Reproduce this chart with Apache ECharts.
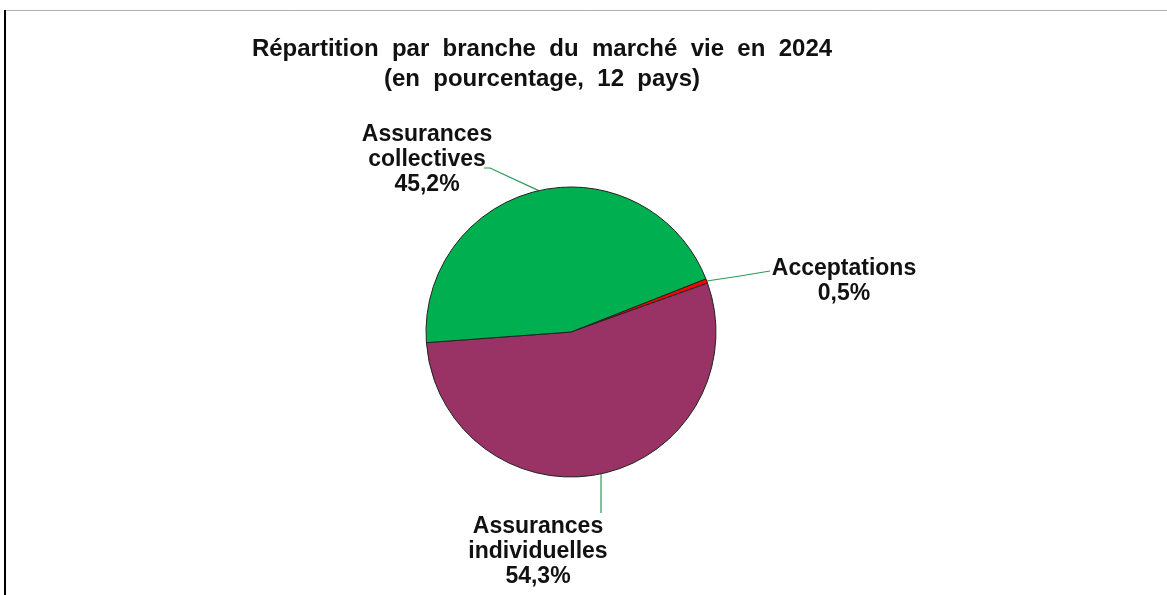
<!DOCTYPE html>
<html>
<head>
<meta charset="utf-8">
<script src="https://cdn.jsdelivr.net/npm/echarts@6/dist/echarts.min.js"></script>
<style>
  html, body { margin: 0; padding: 0; background: #fff; }
  #chart { width: 1167px; height: 595px; }
</style>
</head>
<body>
<div id="chart"></div>
<script>
// données (ordre horaire depuis la tranche rouge)
const branches = ['Acceptations', 'Assurances individuelles', 'Assurances collectives'];
const parts = [0.5, 54.3, 45.2];
const couleurs = ['#ff0000', '#993366', '#00b050'];

// position des étiquettes (centre du texte) et bout des traits de rappel
const etiquettes = [[844, 281], [538, 552], [427, 160]];
const finsTrait = [[[740, 276], [770, 271]], [[601, 495], [601, 513]], [[490, 168], [484, 168]]];

const chart = echarts.init(document.getElementById('chart'));

chart.setOption({
  backgroundColor: '#fff',
  animation: false,
  title: {
    text: 'Répartition  par  branche  du  marché  vie  en  2024\n(en  pourcentage,  12  pays)',
    left: 537,
    top: 29,
    textAlign: 'center',
    textStyle: {
      fontFamily: 'Liberation Sans, Arial, sans-serif',
      fontSize: 24,
      fontWeight: 'bold',
      color: '#111',
      lineHeight: 30
    }
  },
  graphic: [
    { type: 'line', shape: { x1: 4, y1: 10.5, x2: 1167, y2: 10.5 }, style: { stroke: '#b0b0b0', lineWidth: 1 } },
    { type: 'line', shape: { x1: 5, y1: 10, x2: 5, y2: 595 }, style: { stroke: '#000', lineWidth: 2 } }
  ],
  series: [{
    type: 'pie',
    center: [571, 332],
    radius: 145,
    startAngle: 21.5,
    clockwise: true,
    data: branches.map(function (b, i) {
      return { name: b, value: parts[i], itemStyle: { color: couleurs[i] } };
    }),
    itemStyle: { borderColor: '#222', borderWidth: 1 },
    label: {
      show: true,
      position: 'outside',
      fontFamily: 'Liberation Sans, Arial, sans-serif',
      fontSize: 23,
      fontWeight: 'bold',
      color: '#111',
      lineHeight: 25,
      align: 'center',
      formatter: function (p) {
        return p.name.replace(' ', '\n') + '\n' + String(p.value).replace('.', ',') + '%';
      }
    },
    labelLine: {
      show: true,
      length: 20,
      length2: 20,
      lineStyle: { color: '#2a9a55', width: 1.2 }
    },
    labelLayout: function (p) {
      const pos = etiquettes[p.dataIndex];
      const fin = finsTrait[p.dataIndex];
      const depart = p.labelLinePoints ? p.labelLinePoints[0] : fin[0];
      return {
        x: pos[0], y: pos[1], align: 'center', verticalAlign: 'middle',
        labelLinePoints: [depart, fin[0], fin[1]]
      };
    }
  }]
});
</script>
</body>
</html>
